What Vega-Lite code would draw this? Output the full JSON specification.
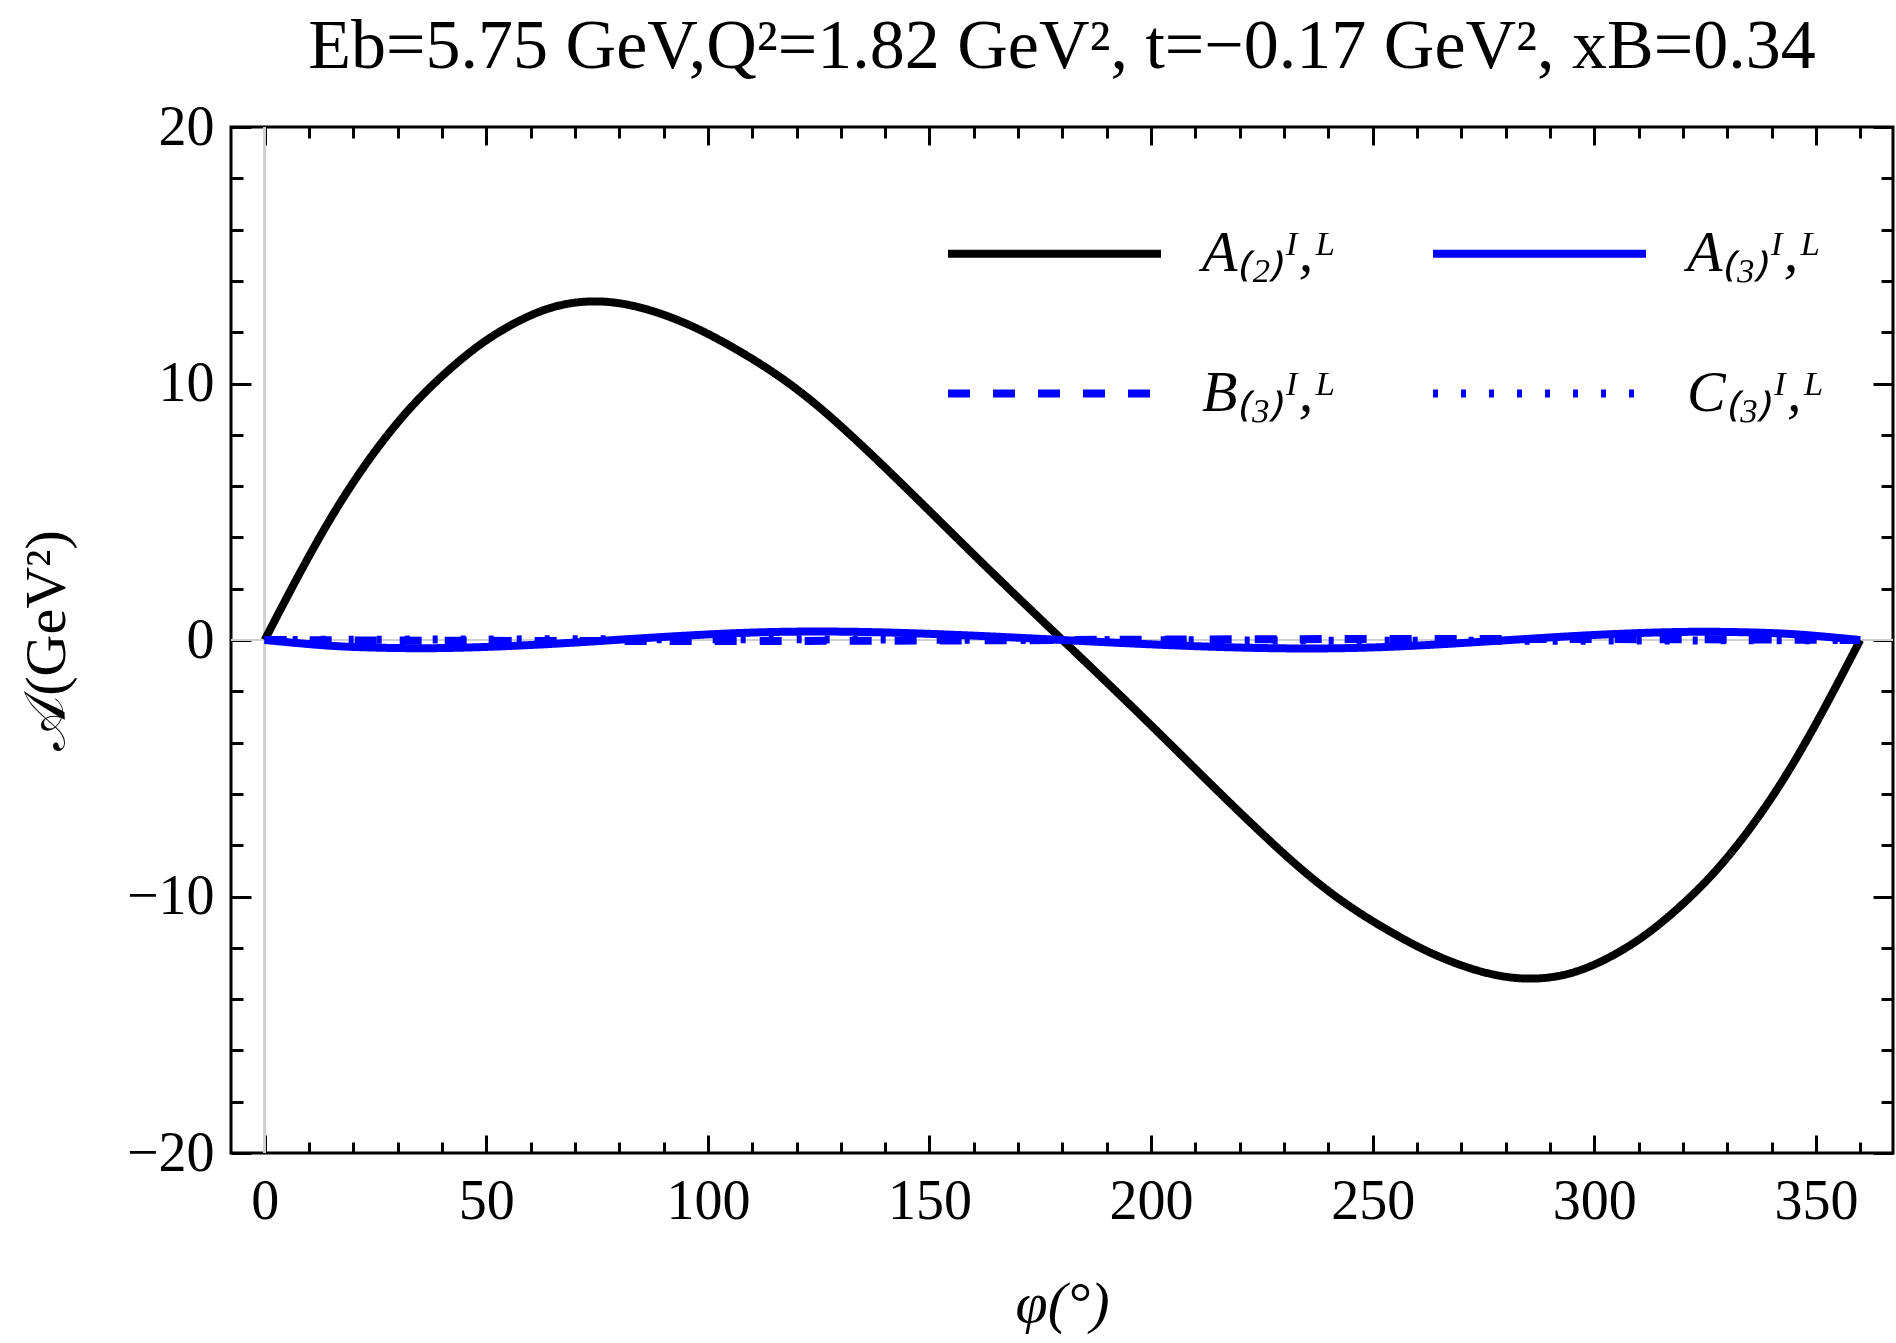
{
  "$schema": "https://vega.github.io/schema/vega-lite/v6.json",
  "autosize": {"type": "none"},
  "width": 1662,
  "height": 1026,
  "padding": {"left": 231, "top": 127, "right": 3, "bottom": 190},
  "background": "white",
  "config": {
    "view": {"stroke": "black", "strokeWidth": 3},
    "font": "Liberation Serif",
    "axis": {
      "domain": false,
      "grid": false,
      "tickColor": "black",
      "tickWidth": 3,
      "labelColor": "black",
      "labelFont": "Liberation Serif",
      "labelFontSize": 56,
      "titleFont": "Liberation Serif",
      "titleFontSize": 58,
      "titleFontWeight": "normal",
      "titleColor": "black"
    }
  },
  "title": {
    "text": "Eb=5.75 GeV,Q²=1.82 GeV², t=−0.17 GeV², xB=0.34",
    "font": "Liberation Serif",
    "fontSize": 70,
    "fontWeight": "normal",
    "color": "black",
    "anchor": "middle",
    "offset": 16
  },
  "data": {
    "values": [
      {"phi": 0, "v": 0, "s": "A₍₂₎ᴵ,ᴸ"},
      {"phi": 7, "v": 2.31, "s": "A₍₂₎ᴵ,ᴸ"},
      {"phi": 14.4, "v": 4.6, "s": "A₍₂₎ᴵ,ᴸ"},
      {"phi": 21.9, "v": 6.63, "s": "A₍₂₎ᴵ,ᴸ"},
      {"phi": 29.3, "v": 8.33, "s": "A₍₂₎ᴵ,ᴸ"},
      {"phi": 36.7, "v": 9.74, "s": "A₍₂₎ᴵ,ᴸ"},
      {"phi": 45.4, "v": 11.09, "s": "A₍₂₎ᴵ,ᴸ"},
      {"phi": 54.1, "v": 12.13, "s": "A₍₂₎ᴵ,ᴸ"},
      {"phi": 64, "v": 12.92, "s": "A₍₂₎ᴵ,ᴸ"},
      {"phi": 73.9, "v": 13.2, "s": "A₍₂₎ᴵ,ᴸ"},
      {"phi": 83.8, "v": 13.0, "s": "A₍₂₎ᴵ,ᴸ"},
      {"phi": 94.9, "v": 12.35, "s": "A₍₂₎ᴵ,ᴸ"},
      {"phi": 106, "v": 11.37, "s": "A₍₂₎ᴵ,ᴸ"},
      {"phi": 117.2, "v": 10.14, "s": "A₍₂₎ᴵ,ᴸ"},
      {"phi": 128.3, "v": 8.6, "s": "A₍₂₎ᴵ,ᴸ"},
      {"phi": 140.7, "v": 6.6, "s": "A₍₂₎ᴵ,ᴸ"},
      {"phi": 153.1, "v": 4.5, "s": "A₍₂₎ᴵ,ᴸ"},
      {"phi": 165.5, "v": 2.4, "s": "A₍₂₎ᴵ,ᴸ"},
      {"phi": 180, "v": 0, "s": "A₍₂₎ᴵ,ᴸ"},
      {"phi": 194.5, "v": -2.4, "s": "A₍₂₎ᴵ,ᴸ"},
      {"phi": 206.9, "v": -4.5, "s": "A₍₂₎ᴵ,ᴸ"},
      {"phi": 219.3, "v": -6.6, "s": "A₍₂₎ᴵ,ᴸ"},
      {"phi": 231.7, "v": -8.6, "s": "A₍₂₎ᴵ,ᴸ"},
      {"phi": 242.8, "v": -10.14, "s": "A₍₂₎ᴵ,ᴸ"},
      {"phi": 254, "v": -11.37, "s": "A₍₂₎ᴵ,ᴸ"},
      {"phi": 265.1, "v": -12.35, "s": "A₍₂₎ᴵ,ᴸ"},
      {"phi": 276.2, "v": -13.0, "s": "A₍₂₎ᴵ,ᴸ"},
      {"phi": 286.1, "v": -13.2, "s": "A₍₂₎ᴵ,ᴸ"},
      {"phi": 296, "v": -12.92, "s": "A₍₂₎ᴵ,ᴸ"},
      {"phi": 305.9, "v": -12.13, "s": "A₍₂₎ᴵ,ᴸ"},
      {"phi": 314.6, "v": -11.09, "s": "A₍₂₎ᴵ,ᴸ"},
      {"phi": 323.3, "v": -9.74, "s": "A₍₂₎ᴵ,ᴸ"},
      {"phi": 330.7, "v": -8.33, "s": "A₍₂₎ᴵ,ᴸ"},
      {"phi": 338.1, "v": -6.63, "s": "A₍₂₎ᴵ,ᴸ"},
      {"phi": 345.6, "v": -4.6, "s": "A₍₂₎ᴵ,ᴸ"},
      {"phi": 353, "v": -2.31, "s": "A₍₂₎ᴵ,ᴸ"},
      {"phi": 360, "v": 0, "s": "A₍₂₎ᴵ,ᴸ"},

      {"phi": 0, "v": 0, "s": "A₍₃₎ᴵ,ᴸ"},
      {"phi": 10, "v": -0.16, "s": "A₍₃₎ᴵ,ᴸ"},
      {"phi": 20, "v": -0.27, "s": "A₍₃₎ᴵ,ᴸ"},
      {"phi": 35, "v": -0.32, "s": "A₍₃₎ᴵ,ᴸ"},
      {"phi": 50, "v": -0.27, "s": "A₍₃₎ᴵ,ᴸ"},
      {"phi": 65, "v": -0.15, "s": "A₍₃₎ᴵ,ᴸ"},
      {"phi": 79, "v": 0, "s": "A₍₃₎ᴵ,ᴸ"},
      {"phi": 95, "v": 0.17, "s": "A₍₃₎ᴵ,ᴸ"},
      {"phi": 110, "v": 0.29, "s": "A₍₃₎ᴵ,ᴸ"},
      {"phi": 126, "v": 0.33, "s": "A₍₃₎ᴵ,ᴸ"},
      {"phi": 145, "v": 0.27, "s": "A₍₃₎ᴵ,ᴸ"},
      {"phi": 165, "v": 0.13, "s": "A₍₃₎ᴵ,ᴸ"},
      {"phi": 180, "v": 0, "s": "A₍₃₎ᴵ,ᴸ"},
      {"phi": 195, "v": -0.13, "s": "A₍₃₎ᴵ,ᴸ"},
      {"phi": 215, "v": -0.27, "s": "A₍₃₎ᴵ,ᴸ"},
      {"phi": 234, "v": -0.33, "s": "A₍₃₎ᴵ,ᴸ"},
      {"phi": 250, "v": -0.29, "s": "A₍₃₎ᴵ,ᴸ"},
      {"phi": 265, "v": -0.17, "s": "A₍₃₎ᴵ,ᴸ"},
      {"phi": 281, "v": 0, "s": "A₍₃₎ᴵ,ᴸ"},
      {"phi": 295, "v": 0.15, "s": "A₍₃₎ᴵ,ᴸ"},
      {"phi": 310, "v": 0.27, "s": "A₍₃₎ᴵ,ᴸ"},
      {"phi": 325, "v": 0.32, "s": "A₍₃₎ᴵ,ᴸ"},
      {"phi": 340, "v": 0.27, "s": "A₍₃₎ᴵ,ᴸ"},
      {"phi": 350, "v": 0.16, "s": "A₍₃₎ᴵ,ᴸ"},
      {"phi": 360, "v": 0, "s": "A₍₃₎ᴵ,ᴸ"},

      {"phi": 0, "v": 0, "s": "B₍₃₎ᴵ,ᴸ"},
      {"phi": 45, "v": -0.03, "s": "B₍₃₎ᴵ,ᴸ"},
      {"phi": 90, "v": -0.04, "s": "B₍₃₎ᴵ,ᴸ"},
      {"phi": 135, "v": -0.03, "s": "B₍₃₎ᴵ,ᴸ"},
      {"phi": 180, "v": 0, "s": "B₍₃₎ᴵ,ᴸ"},
      {"phi": 225, "v": 0.03, "s": "B₍₃₎ᴵ,ᴸ"},
      {"phi": 270, "v": 0.04, "s": "B₍₃₎ᴵ,ᴸ"},
      {"phi": 315, "v": 0.03, "s": "B₍₃₎ᴵ,ᴸ"},
      {"phi": 360, "v": 0, "s": "B₍₃₎ᴵ,ᴸ"},

      {"phi": 0, "v": 0, "s": "C₍₃₎ᴵ,ᴸ"},
      {"phi": 45, "v": 0.02, "s": "C₍₃₎ᴵ,ᴸ"},
      {"phi": 90, "v": 0.03, "s": "C₍₃₎ᴵ,ᴸ"},
      {"phi": 135, "v": 0.02, "s": "C₍₃₎ᴵ,ᴸ"},
      {"phi": 180, "v": 0, "s": "C₍₃₎ᴵ,ᴸ"},
      {"phi": 225, "v": -0.02, "s": "C₍₃₎ᴵ,ᴸ"},
      {"phi": 270, "v": -0.03, "s": "C₍₃₎ᴵ,ᴸ"},
      {"phi": 315, "v": -0.02, "s": "C₍₃₎ᴵ,ᴸ"},
      {"phi": 360, "v": 0, "s": "C₍₃₎ᴵ,ᴸ"}
    ]
  },
  "resolve": {"axis": {"x": "independent", "y": "independent"}},
  "layer": [
    {
      "mark": {"type": "rule", "color": "#d0d0d0", "strokeWidth": 1.5},
      "encoding": {
        "x": {
          "datum": 0,
          "type": "quantitative",
          "scale": {"domain": [-7.6, 367.4], "nice": false, "zero": false},
          "axis": {
            "orient": "top",
            "values": [0, 10, 20, 30, 40, 50, 60, 70, 80, 90, 100, 110, 120, 130, 140, 150, 160, 170, 180, 190, 200, 210, 220, 230, 240, 250, 260, 270, 280, 290, 300, 310, 320, 330, 340, 350, 360],
            "labels": false,
            "title": null,
            "tickSize": {"condition": {"test": "datum.value % 50 === 0", "value": -18}, "value": -11}
          }
        }
      }
    },
    {
      "mark": {"type": "rule", "color": "#d0d0d0", "strokeWidth": 1.5},
      "encoding": {
        "y": {
          "datum": 0,
          "type": "quantitative",
          "scale": {"domain": [-20, 20], "nice": false},
          "axis": {
            "orient": "right",
            "values": [-20, -18, -16, -14, -12, -10, -8, -6, -4, -2, 0, 2, 4, 6, 8, 10, 12, 14, 16, 18, 20],
            "labels": false,
            "title": null,
            "tickSize": {"condition": {"test": "datum.value % 10 === 0", "value": -20}, "value": -12}
          }
        }
      }
    },
    {
      "mark": {"type": "line", "strokeWidth": 8, "interpolate": "natural"},
      "encoding": {
        "x": {
          "field": "phi",
          "type": "quantitative",
          "axis": {
            "orient": "bottom",
            "values": [0, 10, 20, 30, 40, 50, 60, 70, 80, 90, 100, 110, 120, 130, 140, 150, 160, 170, 180, 190, 200, 210, 220, 230, 240, 250, 260, 270, 280, 290, 300, 310, 320, 330, 340, 350, 360],
            "labelExpr": "datum.value % 50 === 0 ? datum.label : ''",
            "labelPadding": 39,
            "tickSize": {"condition": {"test": "datum.value % 50 === 0", "value": -18}, "value": -11},
            "title": "φ(°)",
            "titleFontStyle": "italic",
            "titleX": 831,
            "titleY": 151,
            "titleBaseline": "middle",
            "titleAlign": "center"
          }
        },
        "y": {
          "field": "v",
          "type": "quantitative",
          "axis": {
            "orient": "left",
            "values": [-20, -18, -16, -14, -12, -10, -8, -6, -4, -2, 0, 2, 4, 6, 8, 10, 12, 14, 16, 18, 20],
            "labelExpr": "datum.value % 10 === 0 ? replace(datum.label, '-', '−') : ''",
            "labelPadding": 37,
            "tickSize": {"condition": {"test": "datum.value % 10 === 0", "value": -20}, "value": -12},
            "title": "𝒜(GeV²)",
            "titleX": -184,
            "titleY": 513,
            "titleAngle": -90,
            "titleBaseline": "middle",
            "titleAlign": "center"
          }
        },
        "color": {
          "field": "s",
          "type": "nominal",
          "scale": {
            "domain": ["A₍₂₎ᴵ,ᴸ", "B₍₃₎ᴵ,ᴸ", "A₍₃₎ᴵ,ᴸ", "C₍₃₎ᴵ,ᴸ"],
            "range": ["black", "#0000ff", "#0000ff", "#0000ff"]
          },
          "legend": {
            "orient": "none",
            "legendX": 713,
            "legendY": 16,
            "columns": 2,
            "title": null,
            "padding": 0,
            "symbolType": "stroke",
            "symbolSize": 45369,
            "symbolStrokeWidth": 8,
            "labelFont": "Liberation Serif",
            "labelFontSize": 58,
            "labelFontStyle": "italic",
            "labelColor": "black",
            "labelOffset": 37,
            "columnPadding": 80,
            "rowPadding": -69
          }
        },
        "strokeDash": {
          "field": "s",
          "type": "nominal",
          "scale": {
            "domain": ["A₍₂₎ᴵ,ᴸ", "B₍₃₎ᴵ,ᴸ", "A₍₃₎ᴵ,ᴸ", "C₍₃₎ᴵ,ᴸ"],
            "range": [[1, 0], [22, 23], [1, 0], [5, 23]]
          },
          "legend": null
        },
        "order": {"field": "phi", "type": "quantitative"}
      }
    }
  ]
}
